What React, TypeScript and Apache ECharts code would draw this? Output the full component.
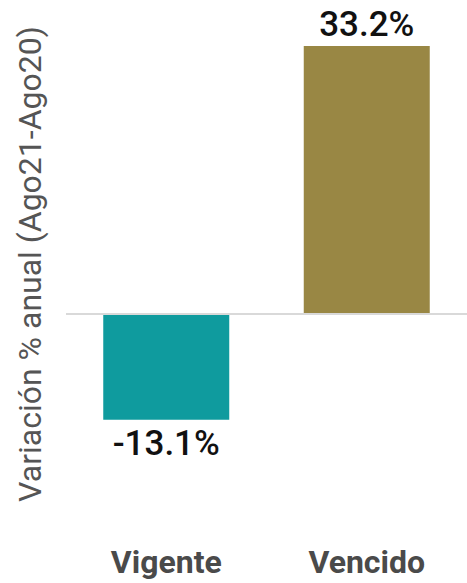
import React, { useEffect, useRef } from "react";
import * as echarts from "echarts";

const categories = ["Vigente", "Vencido"];
const values = [-13.1, 33.2];
const barColors = ["#0F9B9E", "#998744"];
const yAxisTitle = "Variación % anual (Ago21-Ago20)";

export default function App() {
  const ref = useRef<HTMLDivElement>(null);
  useEffect(() => {
    document.body.style.margin = "0";
    const chart = echarts.init(ref.current!, null, { renderer: "svg" });
    chart.setOption({
      animation: false,
      backgroundColor: "#ffffff",
      grid: { left: 66, width: 410, top: 31.5, bottom: 67.2, containLabel: false },
      xAxis: {
        type: "category",
        data: categories,
        axisLine: { show: false, onZero: false },
        axisTick: { show: false },
        axisLabel: {
          margin: 30,
          fontSize: 32,
          fontWeight: "bold",
          fontFamily: "Roboto",
          color: "#4a4a4a",
        },
      },
      yAxis: {
        type: "value",
        min: -25,
        max: 35,
        axisLine: { show: false },
        axisTick: { show: false },
        axisLabel: { show: false },
        splitLine: { show: false },
      },
      graphic: [
        {
          type: "text",
          x: 30,
          y: 264,
          rotation: Math.PI / 2,
          style: {
            text: yAxisTitle,
            fontSize: 32,
            fontFamily: "Roboto",
            fill: "#555555",
            textAlign: "center",
            textVerticalAlign: "middle",
          },
        },
      ],
      series: [
        {
          type: "bar",
          barWidth: 126,
          data: values.map((v, i) => ({
            value: v,
            itemStyle: { color: barColors[i] },
            label: {
              show: true,
              position: v < 0 ? "bottom" : "top",
              distance: v < 0 ? 6 : 4,
              formatter: (p: any) => p.value.toFixed(1) + "%",
              fontSize: 35,
              fontWeight: 500,
              fontFamily: "Roboto",
              color: "#111111",
            },
          })),
          markLine: {
            silent: true,
            symbol: ["none", "none"],
            label: { show: false },
            lineStyle: { color: "#d9d9d9", width: 2, type: "solid" },
            data: [{ yAxis: 0 }],
          },
        },
      ],
    });
    return () => chart.dispose();
  }, []);
  return (
    <div
      ref={ref}
      style={{ position: "absolute", left: 0, top: 0, width: 467, height: 583 }}
    />
  );
}
